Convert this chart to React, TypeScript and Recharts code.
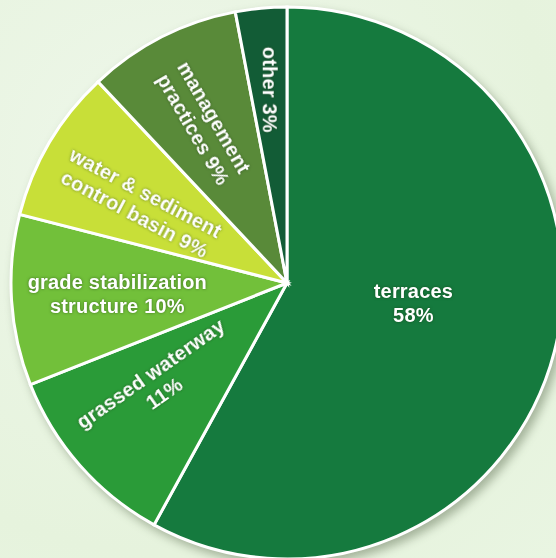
import { PieChart, Pie, Cell } from "recharts"

const categories = [
  "terraces",
  "grassed waterway",
  "grade stabilization structure",
  "water & sediment control basin",
  "management practices",
  "other",
]
const shares = [58, 11, 10, 9, 9, 3]
const labelLines = [
  ["terraces", "58%"],
  ["grassed waterway", "11%"],
  ["grade stabilization", "structure 10%"],
  ["water & sediment", "control basin 9%"],
  ["management", "practices 9%"],
  ["other 3%"],
]
const colors = ["#157a3e", "#2a9b38", "#72c03a", "#c8df38", "#598a39", "#125c36"]

const data = categories.map((name, i) => ({ name, value: shares[i] }))

// label placement per slice: radius from centre, angle nudge, text rotation
const layout = [
  { r: 128, da: 5.4, rot: 0 },
  { r: 164, da: -3.6, rot: -35 },
  { r: 170, da: 0, rot: 0 },
  { r: 167, da: 2.2, rot: 28 },
  { r: 180, da: 0.6, rot: 60 },
  { r: 194, da: -0.3, rot: 90 },
]

const RAD = Math.PI / 180

function renderLabel(props: any) {
  const { cx, cy, midAngle, index } = props
  const l = layout[index]
  const a = (midAngle + l.da) * RAD
  const x = cx + l.r * Math.cos(a)
  const y = cy - l.r * Math.sin(a)
  const lines = labelLines[index]
  const lh = 24
  const top = -((lines.length - 1) * lh) / 2
  return (
    <g transform={`translate(${x},${y}) rotate(${l.rot})`} key={index}>
      <text
        textAnchor="middle"
        dominantBaseline="central"
        fill="#ffffff"
        fontSize={20}
        fontWeight="bold"
        fontFamily="'Liberation Sans', Arial, sans-serif"
        letterSpacing={0.2}
        style={{ filter: "drop-shadow(0px 0px 1.5px rgba(20,50,10,0.55))" }}
      >
        {lines.map((t, i) => (
          <tspan key={i} x={0} y={top + i * lh}>
            {t}
          </tspan>
        ))}
      </text>
    </g>
  )
}

export default function App() {
  return (
    <div
      style={{
        position: "fixed",
        left: 0,
        top: 0,
        width: 556,
        height: 558,
        overflow: "hidden",
        background: "radial-gradient(circle at 30% 30%, #eef7ea 0%, #e6f3dd 70%, #e9f5e2 100%)",
      }}
    >
      <PieChart
        width={556}
        height={558}
        margin={{ top: 0, right: 0, bottom: 0, left: 0 }}
        style={{ filter: "drop-shadow(4px 5px 5px rgba(40,60,30,0.35))" }}
      >
        <Pie
          data={data}
          dataKey="value"
          nameKey="name"
          cx={287}
          cy={283}
          outerRadius={276}
          startAngle={90}
          endAngle={-270}
          stroke="#ffffff"
          strokeWidth={3}
          label={renderLabel}
          labelLine={false}
          isAnimationActive={false}
        >
          {data.map((d, i) => (
            <Cell key={d.name} fill={colors[i]} />
          ))}
        </Pie>
      </PieChart>
    </div>
  )
}
